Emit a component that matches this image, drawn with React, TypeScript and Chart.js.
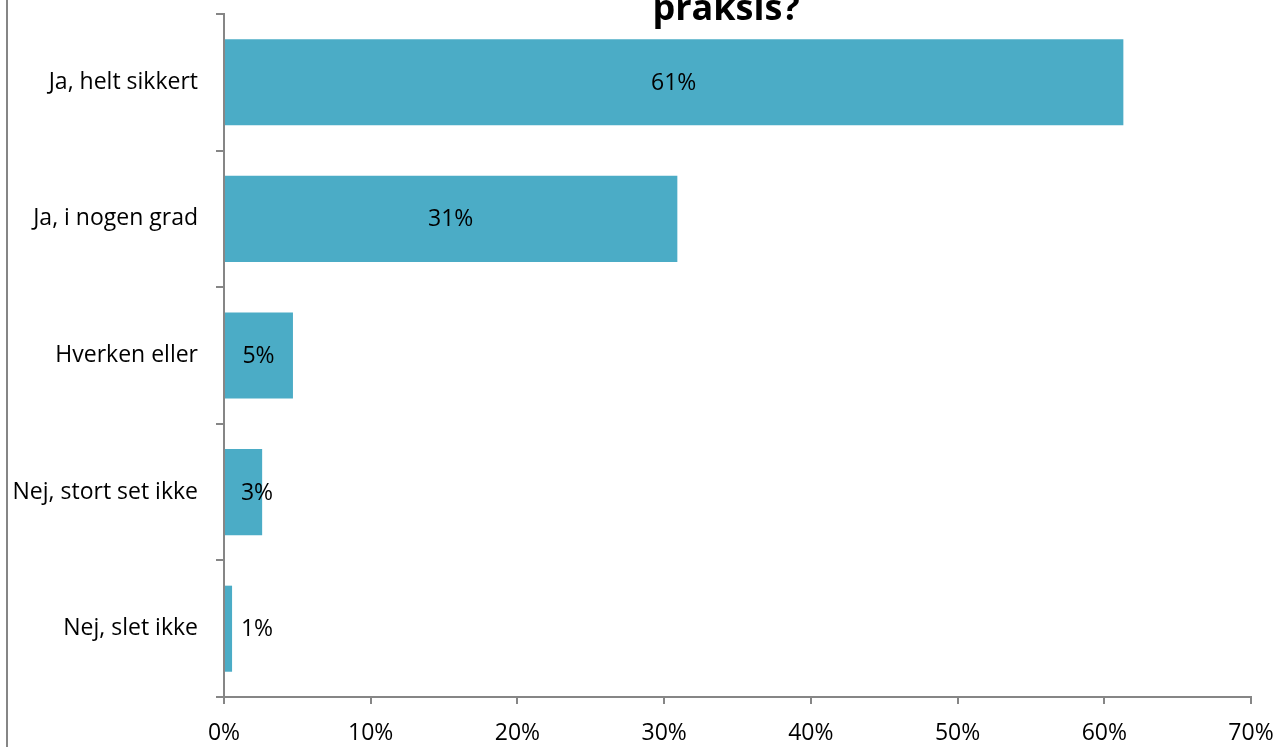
import React, { useEffect, useRef } from "react";
import { Chart, registerables } from "chart.js";

Chart.register(...registerables);

const categories = ["Ja, helt sikkert", "Ja, i nogen grad", "Hverken eller", "Nej, stort set ikke", "Nej, slet ikke"];
const values = [61.3, 30.9, 4.7, 2.6, 0.55];
const valueLabels = ["61%", "31%", "5%", "3%", "1%"];
const titleText = "praksis?";

const FONT = "'Open Sans', sans-serif";
const AXIS_GREY = "#868686";
const FS = 23;

const decorPlugin = {
  id: "decor",
  afterDatasetsDraw(chart: any) {
    const ctx = chart.ctx;
    const meta = chart.getDatasetMeta(0);
    const xScale = chart.scales.x;
    ctx.save();
    ctx.fillStyle = "#000";
    ctx.font = `${FS}px ${FONT}`;
    ctx.textAlign = "center";
    ctx.textBaseline = "middle";
    meta.data.forEach((bar: any, i: number) => {
      const left = xScale.getPixelForValue(0);
      const center = (bar.x + left) / 2;
      const x = Math.max(center, left + 33);
      ctx.fillText(valueLabels[i], x, bar.y + 1);
    });
    ctx.restore();
  },
  afterDraw(chart: any) {
    const ctx = chart.ctx;
    ctx.save();
    ctx.strokeStyle = AXIS_GREY;
    ctx.lineWidth = 2;
    ctx.beginPath();
    ctx.moveTo(7, 0);
    ctx.lineTo(7, chart.height);
    ctx.stroke();
    ctx.fillStyle = "#000";
    ctx.font = `bold 36px ${FONT}`;
    ctx.textAlign = "center";
    ctx.textBaseline = "alphabetic";
    ctx.fillText(titleText, 726, 20);
    ctx.restore();
  },
};

export default function App() {
  const ref = useRef<HTMLCanvasElement>(null);
  useEffect(() => {
    document.body.style.margin = "0";
    const chart = new Chart(ref.current!, {
      type: "bar",
      data: {
        labels: categories,
        datasets: [
          {
            data: values,
            backgroundColor: "#4BACC6",
            borderWidth: 0,
            categoryPercentage: 1,
            barPercentage: 0.63,
          },
        ],
      },
      options: {
        indexAxis: "y",
        animation: false,
        responsive: false,
        maintainAspectRatio: false,
        layout: { padding: { top: 14, right: 27, left: 0, bottom: 0 } },
        plugins: { legend: { display: false }, tooltip: { enabled: false }, title: { display: false } },
        scales: {
          x: {
            min: 0,
            max: 70,
            ticks: {
              stepSize: 10,
              color: "#000",
              font: { family: FONT, size: FS },
              padding: 16,
              callback: (v: any) => `${v}%`,
            },
            grid: { drawOnChartArea: false, tickLength: 7, color: AXIS_GREY, lineWidth: 2 },
            border: { color: AXIS_GREY, width: 2 },
            afterFit: (s: any) => {
              s.height = 50;
              s.paddingLeft = 0;
              s.paddingRight = 0;
            },
          },
          y: {
            offset: true,
            ticks: {
              color: "#000",
              font: { family: FONT, size: FS },
              padding: 18,
            },
            grid: { drawOnChartArea: false, offset: true, tickLength: 8, color: AXIS_GREY, lineWidth: 2 },
            border: { color: AXIS_GREY, width: 2 },
            afterFit: (s: any) => {
              s.width = 224;
              s.paddingTop = 0;
              s.paddingBottom = 0;
            },
          },
        },
      },
      plugins: [decorPlugin],
    });
    return () => chart.destroy();
  }, []);
  return <canvas ref={ref} width={1278} height={747} style={{ display: "block" }} />;
}
